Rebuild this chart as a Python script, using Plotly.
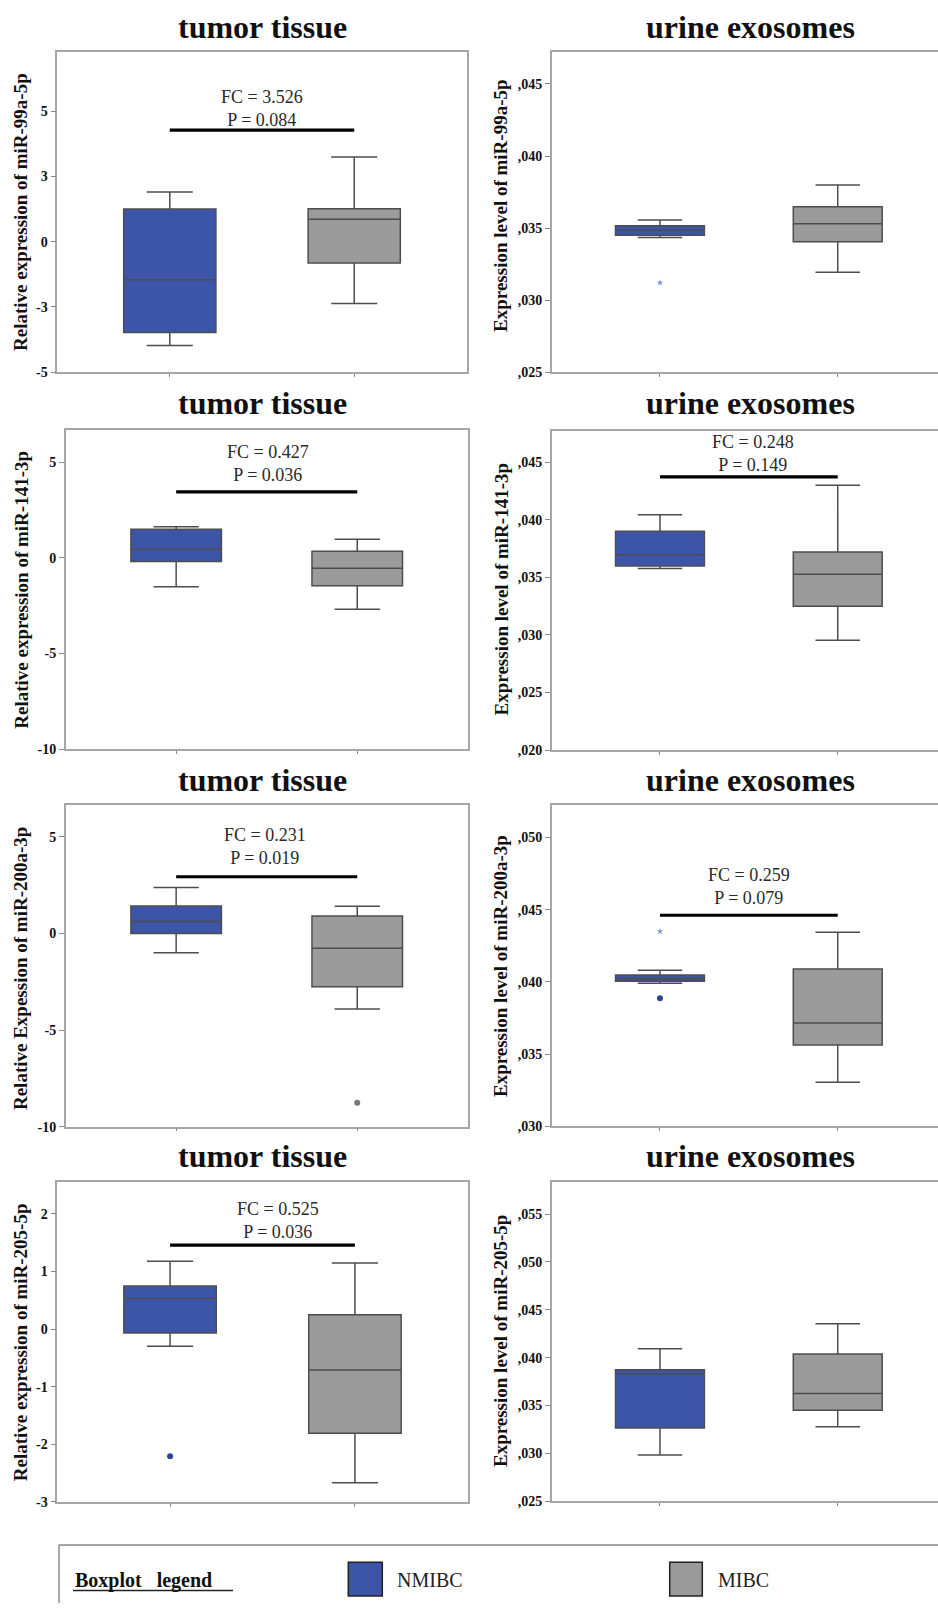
import plotly.graph_objects as go

W, H = 938, 1611

groups = ["NMIBC", "MIBC"]
colors_fill = ["#3d55a8", "#9b9b9b"]

# stats per panel: [lower whisker, q1, median, q3, upper whisker] for NMIBC, MIBC
tissue_99a = [[-3.97, -3.48, -1.46, 1.25, 1.90], [-2.37, -0.82, 0.86, 1.26, 3.24]]
urine_99a = [[0.03436, 0.03450, 0.03485, 0.03517, 0.03556], [0.03194, 0.03406, 0.03531, 0.03648, 0.03799]]
tissue_141 = [[-1.51, -0.20, 0.44, 1.49, 1.62], [-2.69, -1.46, -0.55, 0.34, 0.97]]
urine_141 = [[0.03577, 0.03600, 0.03698, 0.03902, 0.04044], [0.02954, 0.03250, 0.03528, 0.03722, 0.04302]]
tissue_200a = [[-1.00, 0.00, 0.61, 1.42, 2.38], [-3.91, -2.76, -0.77, 0.90, 1.40]]
urine_200a = [[0.03990, 0.04004, 0.04022, 0.04048, 0.04080], [0.03305, 0.03563, 0.03715, 0.04089, 0.04343]]
tissue_205 = [[-0.30, -0.07, 0.53, 0.75, 1.18], [-2.67, -1.81, -0.71, 0.25, 1.15]]
urine_205 = [[0.02983, 0.03265, 0.03832, 0.03874, 0.04093], [0.03279, 0.03450, 0.03627, 0.04038, 0.04354]]

# outliers: (panel index, group index, value, kind)
outliers = [
    (1, 0, 0.03121, "extreme"),
    (4, 1, -8.76, "outlier"),
    (5, 0, 0.04350, "extreme"),
    (5, 0, 0.03886, "outlier"),
    (6, 0, -2.21, "outlier"),
]

# significance: (panel index, FC, P, bar level)
sig = [
    (0, "3.526", "0.084", 4.27),
    (2, "0.427", "0.036", 3.44),
    (3, "0.248", "0.149", 0.04374),
    (4, "0.231", "0.019", 2.93),
    (5, "0.259", "0.079", 0.04461),
    (6, "0.525", "0.036", 1.46),
]

y_titles = [
    "Relative expression of miR-99a-5p", "Expression level of miR-99a-5p",
    "Relative expression of miR-141-3p", "Expression level of miR-141-3p",
    "Relative Expession of miR-200a-3p", "Expression level of miR-200a-3p",
    "Relative expression of miR-205-5p", "Expression level of miR-205-5p",
]
panel_titles = ["tumor tissue", "urine exosomes"]

tick_vals = [
    [-5, -2.5, 0, 2.5, 5], [0.025, 0.030, 0.035, 0.040, 0.045],
    [-10, -5, 0, 5], [0.020, 0.025, 0.030, 0.035, 0.040, 0.045],
    [-10, -5, 0, 5], [0.030, 0.035, 0.040, 0.045, 0.050],
    [-3, -2, -1, 0, 1, 2], [0.025, 0.030, 0.035, 0.040, 0.045, 0.050, 0.055],
]
tick_text = [
    ["-5", "-3", "0", "3", "5"], [",025", ",030", ",035", ",040", ",045"],
    ["-10", "-5", "0", "5"], [",020", ",025", ",030", ",035", ",040", ",045"],
    ["-10", "-5", "0", "5"], [",030", ",035", ",040", ",045", ",050"],
    ["-3", "-2", "-1", "0", "1", "2"], [",025", ",030", ",035", ",040", ",045", ",050", ",055"],
]
y_ranges = [
    [-5, 7.27], [0.025, 0.04724],
    [-10, 6.67], [0.020, 0.04775],
    [-10, 6.64], [0.030, 0.05224],
    [-3, 2.56], [0.025, 0.05837],
]

stats = [tissue_99a, urine_99a, tissue_141, urine_141, tissue_200a, urine_200a, tissue_205, urine_205]

# layout geometry in pixels: (x0, x1, ytop, ybottom)
frames = [
    (57.3, 466.7, 51.7, 372.3), (551.7, 938, 51.7, 372.3),
    (65.7, 467.7, 430.0, 749.3), (551.7, 938, 430.7, 750.0),
    (65.7, 467.7, 805.0, 1126.7), (551.7, 938, 805.0, 1126.3),
    (57.3, 467.7, 1181.7, 1501.7), (551.7, 938, 1181.7, 1501.3),
]
x_ranges_left = [-0.61, 1.61]
x_ranges_right = [-0.609, 1.564]
title_y = [27, 402.7, 780.3, 1156]
title_x = [262, 750.7]
ytitle_pos = [(20.7, 212.3), (501.2, 205.7), (20.7, 590), (501.2, 589.2),
              (20.7, 968.3), (501.2, 965.8), (20.7, 1342.5), (501.2, 1340.8)]
sig_text_pos = {0: (262.3, 108.2), 2: (267.5, 463.3), 3: (753.2, 453.2),
                4: (264.5, 846.7), 5: (748.5, 886.7), 6: (277.5, 1220)}

SERIF = "Liberation Serif, Times New Roman, serif"
FRAME = "#a6a6a6"
VK = 0.995  # vertical calibration of the rendered page


def px(x):
    return x / W


def py(y):
    return max(0.0, 1 - (y / VK) / H)


fig = go.Figure()
layout = dict(width=W, height=H, margin=dict(l=0, r=0, t=0, b=0), autosize=False,
              paper_bgcolor="white", plot_bgcolor="white", showlegend=False)
shapes = []
annotations = []

for i in range(8):
    n = i + 1
    xa = "x" if n == 1 else f"x{n}"
    ya = "y" if n == 1 else f"y{n}"
    right = i % 2 == 1
    x0, x1, yt, yb = frames[i]
    layout[f"xaxis{n if n > 1 else ''}"] = dict(
        domain=[px(x0), min(px(x1), 1.0)], anchor=ya,
        range=x_ranges_right if right else x_ranges_left,
        showgrid=False, zeroline=False, showline=True, mirror=True,
        linecolor=FRAME, linewidth=1.5, ticks="outside", ticklen=3,
        tickcolor="#888", tickvals=[0, 1], showticklabels=False, fixedrange=True)
    layout[f"yaxis{n if n > 1 else ''}"] = dict(
        domain=[py(yb), py(yt)], anchor=xa, range=y_ranges[i],
        showgrid=False, zeroline=False, showline=True, mirror=not right,
        linecolor=FRAME, linewidth=1.5, ticks="outside", ticklen=5,
        tickcolor="#888", tickvals=tick_vals[i], ticktext=tick_text[i],
        tickfont=dict(family=SERIF, size=14, color="#111", weight="bold"),
        fixedrange=True)
    for g in range(2):
        lo, q1, med, q3, hi = stats[i][g]
        fig.add_trace(go.Box(
            x=[g], q1=[q1], median=[med], q3=[q3], lowerfence=[lo], upperfence=[hi],
            width=0.5, whiskerwidth=0.5, fillcolor=colors_fill[g],
            line=dict(color="#4d4d4d", width=1.5), boxpoints=False,
            name=groups[g], xaxis=xa, yaxis=ya, hoverinfo="skip"))
    annotations.append(dict(
        text="<b>" + y_titles[i] + "</b>", xref="paper", yref="paper",
        x=px(ytitle_pos[i][0]), y=py(ytitle_pos[i][1]), textangle=-90,
        showarrow=False, xanchor="center", yanchor="middle",
        font=dict(family=SERIF, size=19, color="#111")))

for r in range(4):
    for c in range(2):
        annotations.append(dict(
            text="<b>" + panel_titles[c] + "</b>", xref="paper", yref="paper",
            x=px(title_x[c]), y=py(title_y[r]), showarrow=False,
            xanchor="center", yanchor="middle",
            font=dict(family=SERIF, size=32, color="#111")))

for (i, fc, p, lvl) in sig:
    n = i + 1
    xa = "x" if n == 1 else f"x{n}"
    ya = "y" if n == 1 else f"y{n}"
    shapes.append(dict(type="line", xref=xa, yref=ya, x0=0, x1=1, y0=lvl, y1=lvl,
                       line=dict(color="black", width=3.2)))
    tx, ty = sig_text_pos[i]
    annotations.append(dict(
        text=f"FC = {fc}<br>P = {p}", xref="paper", yref="paper",
        x=px(tx), y=py(ty), showarrow=False, xanchor="center", yanchor="middle",
        font=dict(family=SERIF, size=18, color="#2a2a2a")))

for (i, g, v, kind) in outliers:
    n = i + 1
    xa = "x" if n == 1 else f"x{n}"
    ya = "y" if n == 1 else f"y{n}"
    if kind == "extreme":
        marker = dict(symbol="star", size=5, color="#8195db")
    else:
        marker = dict(symbol="circle", size=6,
                      color="#2c4497" if g == 0 else "#7a7a7a")
    fig.add_trace(go.Scatter(x=[g], y=[v], mode="markers", marker=marker,
                             xaxis=xa, yaxis=ya, hoverinfo="skip"))

# legend box
shapes.append(dict(type="line", xref="paper", yref="paper", x0=px(59), x1=1.0,
                   y0=py(1545), y1=py(1545), line=dict(color="#8a8a8a", width=1.5)))
shapes.append(dict(type="line", xref="paper", yref="paper", x0=px(59), x1=px(59),
                   y0=py(1545), y1=0, line=dict(color="#8a8a8a", width=1.5)))
annotations.append(dict(
    text="<b>Boxplot\u00a0\u00a0\u00a0legend</b>", xref="paper", yref="paper",
    x=px(73), y=py(1580), showarrow=False, xanchor="left", yanchor="middle",
    font=dict(family=SERIF, size=20, color="#111")))
shapes.append(dict(type="line", xref="paper", yref="paper", x0=px(73), x1=px(233),
                   y0=py(1590.5), y1=py(1590.5), line=dict(color="#222", width=1.5)))
legend_x = [(348.3, 382.3, 395), (669.7, 702.3, 716)]
for g in range(2):
    sx0, sx1, tx = legend_x[g]
    shapes.append(dict(type="rect", xref="paper", yref="paper",
                       x0=px(sx0), x1=px(sx1), y0=py(1596), y1=py(1562.3),
                       fillcolor=colors_fill[g], line=dict(color="#222", width=1.5)))
    annotations.append(dict(
        text=groups[g], xref="paper", yref="paper", x=px(tx), y=py(1579.5),
        showarrow=False, xanchor="left", yanchor="middle",
        font=dict(family=SERIF, size=20, color="#222")))

layout["shapes"] = shapes
layout["annotations"] = annotations
fig.update_layout(**layout)
fig.write_html(
    "out.html",
    config={"displayModeBar": False, "responsive": False},
    post_script=(
        "var s=document.documentElement.style;s.margin='0';s.padding='0';"
        "s.overflow='hidden';s.height='1611px';"
        "var b=document.body.style;b.margin='0';b.padding='0';"
        "b.overflow='hidden';b.height='1611px';"
    ),
)
